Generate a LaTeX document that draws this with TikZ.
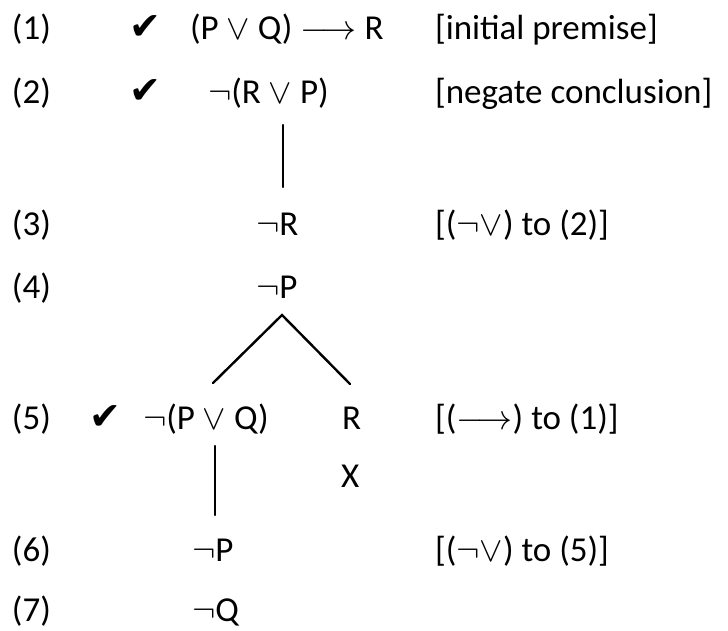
\RequirePackage{fix-cm}
\documentclass[tikz,border=0pt]{standalone}
\usepackage{fontspec}
\setmainfont{Carlito}
\newfontfamily\checkfont{DejaVu Sans}
\newcommand\chk{{\checkfont\fontsize{38}{38}\selectfont ✔}}
\newcommand\myneg{$\neg$}
\newcommand\myor{$\vee$}
\begin{document}
\begin{tikzpicture}[x=1pt,y=-1pt,
  every node/.style={inner sep=0pt, outer sep=0pt, anchor=base west, font=\fontsize{35}{35}\selectfont},
  conn/.style={line width=2.4pt, line cap=round}]
\useasboundingbox (0,0) rectangle (728,631);
% line numbers
\node (l1) at (12,40) {(1)};
\node (l2) at (12,104) {(2)};
\node (l3) at (12,235) {(3)};
\node (l4) at (12,298) {(4)};
\node (l5) at (12,429) {(5)};
\node (l6) at (12,561) {(6)};
\node (l7) at (12,621) {(7)};
% checks
\node (c1) at (129,40) {\chk};
\node (c2) at (129,104) {\chk};
\node (c5) at (89,429) {\chk};
% formulas
\node (f1) at (190,40) {(P \myor{} Q) $\longrightarrow$ R};
\node (f2) at (208,104) {\myneg(R \myor{} P)};
\node (f3) at (256,235) {\myneg R};
\node (f4) at (256,298) {\myneg P};
\node (f5a) at (143,429) {\myneg(P \myor{} Q)};
\node (f5b) at (342,429) {R};
\node (x5) at (341,487) {X};
\node (f6) at (192,561) {\myneg P};
\node (f7) at (192,621) {\myneg Q};
% justifications
\node (j1) at (435,40) {[initial premise]};
\node (j2) at (435,104) {[negate conclusion]};
\node (j3) at (435,235) {[(\myneg\myor) to (2)]};
\node (j5) at (435,429) {[($\longrightarrow$) to (1)]};
\node (j6) at (435,561) {[(\myneg\myor) to (5)]};
% connectors
\coordinate (v1a) at (283,125);
\coordinate (v1b) at (283,187);
\coordinate (ap) at (282,315);
\coordinate (bl) at (213,383);
\coordinate (br) at (350,384);
\coordinate (v2a) at (215,446);
\coordinate (v2b) at (215,515);
\draw[conn] (v1a) -- (v1b);
\draw[conn] (bl) -- (ap) -- (br);
\draw[conn] (v2a) -- (v2b);
\end{tikzpicture}
\end{document}
